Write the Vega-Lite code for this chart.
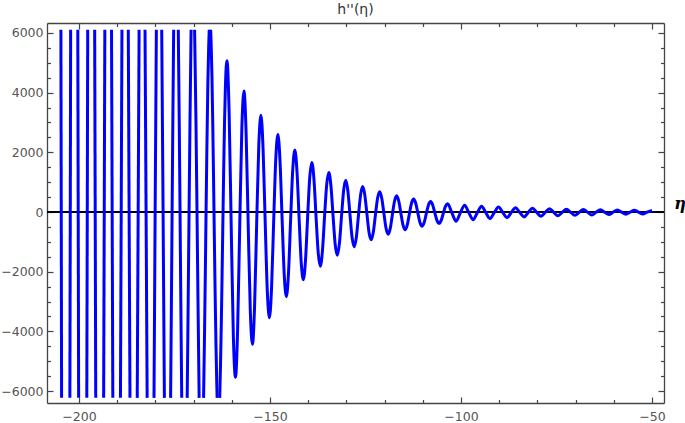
{
  "$schema": "https://vega.github.io/schema/vega-lite/v6.json",
  "width": 617,
  "height": 380,
  "autosize": {"type": "none"},
  "padding": {"left": 47, "top": 23, "right": 21, "bottom": 20},
  "title": {"text": "h''(η)", "font": "DejaVu Sans", "fontSize": 14, "fontWeight": "normal", "color": "#333", "offset": 5, "anchor": "middle"},
  "config": {
    "view": {"stroke": null},
    "axis": {"grid": false, "domainColor": "#444", "domainWidth": 1.3, "tickColor": "#444", "tickWidth": 1.2, "labelFont": "DejaVu Sans", "labelFontSize": 12.5, "labelColor": "#555", "title": null, "labelOverlap": false, "labelFlush": false}
  },
  "layer": [
    {
      "data": {"values": [{}]},
      "mark": {"type": "rule", "color": "black", "strokeWidth": 1.8},
      "encoding": {
        "x": {"datum": -208.38, "type": "quantitative", "scale": {"domain": [-208.38, -46.86], "nice": false, "zero": false},
          "axis": {"orient": "top", "labels": false, "values": [-200,-190,-180,-170,-160,-150,-140,-130,-120,-110,-100,-90,-80,-70,-60,-50],
            "tickSize": {"condition": {"test": "datum.value % 50 === 0", "value": -6}, "value": -3.5}}},
        "x2": {"datum": -46.86},
        "y": {"datum": 0, "type": "quantitative", "scale": {"domain": [-6402, 6335], "nice": false, "zero": false},
          "axis": {"orient": "right", "labels": false, "values": [-6000,-5500,-5000,-4500,-4000,-3500,-3000,-2500,-2000,-1500,-1000,-500,0,500,1000,1500,2000,2500,3000,3500,4000,4500,5000,5500,6000],
            "tickSize": {"condition": {"test": "datum.value % 2000 === 0", "value": -6}, "value": -3.5}}}
      }
    },
    {
      "data": {"values": [
        {"eta": -204.74, "h": 6110, "s": 1}, {"eta": -204.56, "h": -6230, "s": 1},
        {"eta": -202.39, "h": -6230, "s": 2}, {"eta": -202.19, "h": 6110, "s": 2},
        {"eta": -200.32, "h": 6110, "s": 3}, {"eta": -200.10, "h": -6230, "s": 3},
        {"eta": -197.96, "h": -6230, "s": 4}, {"eta": -197.72, "h": 6110, "s": 4},
        {"eta": -195.90, "h": 6110, "s": 5}, {"eta": -195.62, "h": -6230, "s": 5},
        {"eta": -193.55, "h": -6230, "s": 6}, {"eta": -193.24, "h": 6110, "s": 6},
        {"eta": -191.49, "h": 6110, "s": 7}, {"eta": -191.15, "h": -6230, "s": 7},
        {"eta": -189.15, "h": -6230, "s": 8}, {"eta": -188.76, "h": 6110, "s": 8},
        {"eta": -187.10, "h": 6110, "s": 9}, {"eta": -186.66, "h": -6230, "s": 9},
        {"eta": -184.76, "h": -6230, "s": 10}, {"eta": -184.27, "h": 6110, "s": 10},
        {"eta": -182.72, "h": 6110, "s": 11}, {"eta": -182.16, "h": -6230, "s": 11},
        {"eta": -180.37, "h": -6230, "s": 12}, {"eta": -180.07, "h": 0, "s": 12}, {"eta": -179.75, "h": 6110, "s": 12},
        {"eta": -178.35, "h": 6110, "s": 13}, {"eta": -177.99, "h": 0, "s": 13}, {"eta": -177.65, "h": -6230, "s": 13},
        {"eta": -176.02, "h": -6230, "s": 14}, {"eta": -175.81, "h": -3000, "s": 14}, {"eta": -175.63, "h": 0, "s": 14}, {"eta": -175.44, "h": 3000, "s": 14}, {"eta": -175.22, "h": 6110, "s": 14},
        {"eta": -174.01, "h": 6110, "s": 15}, {"eta": -173.76, "h": 3000, "s": 15}, {"eta": -173.55, "h": 0, "s": 15}, {"eta": -173.35, "h": -3000, "s": 15}, {"eta": -173.11, "h": -6230, "s": 15},
        {"eta": -171.68, "h": -6230, "s": 16}, {"eta": -171.42, "h": -3000, "s": 16}, {"eta": -171.19, "h": 0, "s": 16}, {"eta": -170.95, "h": 3000, "s": 16}, {"eta": -170.66, "h": 6110, "s": 16},
        {"eta": -169.74, "h": 6110, "s": 17}, {"eta": -169.38, "h": 3000, "s": 17}, {"eta": -169.11, "h": 0, "s": 17}, {"eta": -168.85, "h": -3000, "s": 17}, {"eta": -168.55, "h": -6230, "s": 17},
        {"eta": -167.39, "h": -6230, "s": 18}, {"eta": -167.13, "h": -4000, "s": 18}, {"eta": -166.93, "h": -2000, "s": 18}, {"eta": -166.74, "h": 0, "s": 18}, {"eta": -166.54, "h": 2000, "s": 18}, {"eta": -166.27, "h": 4321, "s": 18}, {"eta": -166.05, "h": 5571, "s": 18}, {"eta": -165.91, "h": 6110, "s": 18},
        {"eta": -165.54, "h": 6110, "s": 19}, {"eta": -165.42, "h": 5697, "s": 19}, {"eta": -165.20, "h": 4564, "s": 19}, {"eta": -164.99, "h": 2991, "s": 19}, {"eta": -164.78, "h": 1126, "s": 19}, {"eta": -164.57, "h": -859, "s": 19}, {"eta": -164.36, "h": -2785, "s": 19}, {"eta": -164.14, "h": -4481, "s": 19}, {"eta": -163.93, "h": -5803, "s": 19}, {"eta": -163.84, "h": -6230, "s": 19},
        {"eta": -163.17, "h": -6230, "s": 20}, {"eta": -162.96, "h": -5134, "s": 20}, {"eta": -162.74, "h": -3669, "s": 20}, {"eta": -162.53, "h": -1964, "s": 20}, {"eta": -162.32, "h": -174, "s": 20}, {"eta": -162.11, "h": 1542, "s": 20}, {"eta": -161.90, "h": 3032, "s": 20}, {"eta": -161.68, "h": 4171, "s": 20}, {"eta": -161.47, "h": 4867, "s": 20}, {"eta": -161.26, "h": 5067, "s": 20},
        {"eta": -160.70, "h": 3324, "s": 20}, {"eta": -160.15, "h": -533, "s": 20}, {"eta": -159.59, "h": -4179, "s": 20}, {"eta": -159.04, "h": -5539, "s": 20}, {"eta": -158.48, "h": -3952, "s": 20}, {"eta": -157.93, "h": -476, "s": 20}, {"eta": -157.37, "h": 2812, "s": 20},
        {"eta": -156.82, "h": 4054, "s": 20}, {"eta": -156.26, "h": 2659, "s": 20}, {"eta": -155.71, "h": -426, "s": 20}, {"eta": -155.15, "h": -3343, "s": 20}, {"eta": -154.60, "h": -4432, "s": 20}, {"eta": -154.04, "h": -3162, "s": 20}, {"eta": -153.49, "h": -381, "s": 20}, {"eta": -152.93, "h": 2249, "s": 20},
        {"eta": -152.37, "h": 3243, "s": 20}, {"eta": -151.82, "h": 2127, "s": 20}, {"eta": -151.26, "h": -341, "s": 20}, {"eta": -150.70, "h": -2675, "s": 20}, {"eta": -150.15, "h": -3545, "s": 20}, {"eta": -149.59, "h": -2529, "s": 20}, {"eta": -149.04, "h": -305, "s": 20}, {"eta": -148.48, "h": 1799, "s": 20},
        {"eta": -147.93, "h": 2595, "s": 20}, {"eta": -147.38, "h": 1702, "s": 20}, {"eta": -146.82, "h": -273, "s": 20}, {"eta": -146.26, "h": -2140, "s": 20}, {"eta": -145.71, "h": -2837, "s": 20}, {"eta": -145.15, "h": -2024, "s": 20}, {"eta": -144.60, "h": -244, "s": 20}, {"eta": -144.04, "h": 1440, "s": 20},
        {"eta": -143.49, "h": 2075, "s": 20}, {"eta": -142.94, "h": 1361, "s": 20}, {"eta": -142.38, "h": -218, "s": 20}, {"eta": -141.82, "h": -1712, "s": 20}, {"eta": -141.27, "h": -2269, "s": 20}, {"eta": -140.71, "h": -1619, "s": 20}, {"eta": -140.16, "h": -195, "s": 20}, {"eta": -139.60, "h": 1152, "s": 20},
        {"eta": -139.05, "h": 1661, "s": 20}, {"eta": -138.49, "h": 1089, "s": 20}, {"eta": -137.94, "h": -175, "s": 20}, {"eta": -137.38, "h": -1370, "s": 20}, {"eta": -136.83, "h": -1815, "s": 20}, {"eta": -136.27, "h": -1295, "s": 20}, {"eta": -135.72, "h": -156, "s": 20}, {"eta": -135.16, "h": 921, "s": 20},
        {"eta": -134.60, "h": 1328, "s": 20}, {"eta": -134.05, "h": 871, "s": 20}, {"eta": -133.49, "h": -140, "s": 20}, {"eta": -132.93, "h": -1096, "s": 20}, {"eta": -132.38, "h": -1452, "s": 20}, {"eta": -131.82, "h": -1036, "s": 20}, {"eta": -131.27, "h": -125, "s": 20}, {"eta": -130.71, "h": 737, "s": 20},
        {"eta": -130.16, "h": 1063, "s": 20}, {"eta": -129.61, "h": 697, "s": 20}, {"eta": -129.05, "h": -112, "s": 20}, {"eta": -128.49, "h": -877, "s": 20}, {"eta": -127.94, "h": -1162, "s": 20}, {"eta": -127.38, "h": -829, "s": 20}, {"eta": -126.83, "h": -100, "s": 20}, {"eta": -126.27, "h": 590, "s": 20},
        {"eta": -125.72, "h": 851, "s": 20}, {"eta": -125.17, "h": 558, "s": 20}, {"eta": -124.61, "h": -89, "s": 20}, {"eta": -124.05, "h": -701, "s": 20}, {"eta": -123.50, "h": -930, "s": 20}, {"eta": -122.94, "h": -663, "s": 20}, {"eta": -122.39, "h": -80, "s": 20}, {"eta": -121.83, "h": 472, "s": 20},
        {"eta": -121.27, "h": 680, "s": 20}, {"eta": -120.72, "h": 446, "s": 20}, {"eta": -120.16, "h": -72, "s": 20}, {"eta": -119.60, "h": -561, "s": 20}, {"eta": -119.05, "h": -744, "s": 20}, {"eta": -118.49, "h": -531, "s": 20}, {"eta": -117.94, "h": -64, "s": 20}, {"eta": -117.38, "h": 378, "s": 20},
        {"eta": -116.83, "h": 545, "s": 20}, {"eta": -116.28, "h": 357, "s": 20}, {"eta": -115.72, "h": -57, "s": 20}, {"eta": -115.16, "h": -449, "s": 20}, {"eta": -114.61, "h": -595, "s": 20}, {"eta": -114.05, "h": -425, "s": 20}, {"eta": -113.50, "h": -51, "s": 20}, {"eta": -112.94, "h": 302, "s": 20},
        {"eta": -112.39, "h": 436, "s": 20}, {"eta": -111.84, "h": 286, "s": 20}, {"eta": -111.28, "h": -46, "s": 20}, {"eta": -110.72, "h": -359, "s": 20}, {"eta": -110.17, "h": -476, "s": 20}, {"eta": -109.61, "h": -340, "s": 20}, {"eta": -109.06, "h": -41, "s": 20}, {"eta": -108.50, "h": 242, "s": 20},
        {"eta": -107.94, "h": 348, "s": 20}, {"eta": -107.39, "h": 228, "s": 20}, {"eta": -106.83, "h": -37, "s": 20}, {"eta": -106.27, "h": -287, "s": 20}, {"eta": -105.72, "h": -381, "s": 20}, {"eta": -105.16, "h": -272, "s": 20}, {"eta": -104.61, "h": -33, "s": 20}, {"eta": -104.05, "h": 193, "s": 20},
        {"eta": -103.50, "h": 279, "s": 20}, {"eta": -102.39, "h": -28, "s": 20}, {"eta": -101.28, "h": -309, "s": 20}, {"eta": -100.17, "h": -26, "s": 20},
        {"eta": -99.06, "h": 230, "s": 20}, {"eta": -97.95, "h": -24, "s": 20}, {"eta": -96.84, "h": -258, "s": 20}, {"eta": -95.73, "h": -22, "s": 20},
        {"eta": -94.62, "h": 194, "s": 20}, {"eta": -93.51, "h": -20, "s": 20}, {"eta": -92.40, "h": -219, "s": 20}, {"eta": -91.29, "h": -19, "s": 20},
        {"eta": -90.17, "h": 167, "s": 20}, {"eta": -89.06, "h": -17, "s": 20}, {"eta": -87.95, "h": -189, "s": 20}, {"eta": -86.84, "h": -16, "s": 20},
        {"eta": -85.73, "h": 144, "s": 20}, {"eta": -84.62, "h": -15, "s": 20}, {"eta": -83.51, "h": -165, "s": 20}, {"eta": -82.40, "h": -14, "s": 20},
        {"eta": -81.29, "h": 126, "s": 20}, {"eta": -80.18, "h": -13, "s": 20}, {"eta": -79.07, "h": -144, "s": 20}, {"eta": -77.96, "h": -12, "s": 20},
        {"eta": -76.84, "h": 110, "s": 20}, {"eta": -75.73, "h": -11, "s": 20}, {"eta": -74.62, "h": -126, "s": 20}, {"eta": -73.51, "h": -11, "s": 20},
        {"eta": -72.40, "h": 96, "s": 20}, {"eta": -71.29, "h": -10, "s": 20}, {"eta": -70.18, "h": -110, "s": 20}, {"eta": -69.07, "h": -10, "s": 20},
        {"eta": -67.96, "h": 85, "s": 20}, {"eta": -66.85, "h": -9, "s": 20}, {"eta": -65.74, "h": -97, "s": 20}, {"eta": -64.63, "h": -8, "s": 20},
        {"eta": -63.51, "h": 75, "s": 20}, {"eta": -62.40, "h": -8, "s": 20}, {"eta": -61.29, "h": -86, "s": 20}, {"eta": -60.18, "h": -7, "s": 20},
        {"eta": -59.07, "h": 66, "s": 20}, {"eta": -57.96, "h": -7, "s": 20}, {"eta": -56.85, "h": -76, "s": 20}, {"eta": -55.74, "h": -6, "s": 20},
        {"eta": -54.63, "h": 59, "s": 20}, {"eta": -53.52, "h": -6, "s": 20}, {"eta": -52.41, "h": -67, "s": 20}, {"eta": -51.30, "h": -6, "s": 20},
        {"eta": -50.00, "h": 50, "s": 20}
      ]},
      "mark": {"type": "line", "color": "#0000ff", "strokeWidth": 3, "interpolate": "monotone"},
      "encoding": {
        "x": {"field": "eta", "type": "quantitative", "scale": {"domain": [-208.38, -46.86], "nice": false, "zero": false},
          "axis": {"orient": "bottom", "format": "d", "values": [-200,-190,-180,-170,-160,-150,-140,-130,-120,-110,-100,-90,-80,-70,-60,-50],
            "labelExpr": "datum.value % 50 === 0 ? datum.label : ''",
            "tickSize": {"condition": {"test": "datum.value % 50 === 0", "value": -6}, "value": -3.5},
            "labelPadding": 13}},
        "y": {"field": "h", "type": "quantitative", "scale": {"domain": [-6402, 6335], "nice": false, "zero": false},
          "axis": {"orient": "left", "format": "d", "values": [-6000,-5500,-5000,-4500,-4000,-3500,-3000,-2500,-2000,-1500,-1000,-500,0,500,1000,1500,2000,2500,3000,3500,4000,4500,5000,5500,6000],
            "labelExpr": "datum.value % 2000 === 0 ? datum.label : ''",
            "tickSize": {"condition": {"test": "datum.value % 2000 === 0", "value": -6}, "value": -3.5},
            "labelPadding": 10}},
        "detail": {"field": "s", "type": "nominal"}
      }
    },
    {
      "data": {"values": [{}]},
      "mark": {"type": "text", "text": "η", "font": "DejaVu Serif", "fontStyle": "italic", "fontWeight": "bold", "fontSize": 16, "color": "black", "align": "center", "baseline": "alphabetic", "dx": 16, "dy": -3},
      "encoding": {
        "x": {"datum": -46.86, "type": "quantitative", "axis": null},
        "y": {"datum": 0, "type": "quantitative", "axis": null}
      }
    }
  ],
  "resolve": {"axis": {"x": "independent", "y": "independent"}}
}
